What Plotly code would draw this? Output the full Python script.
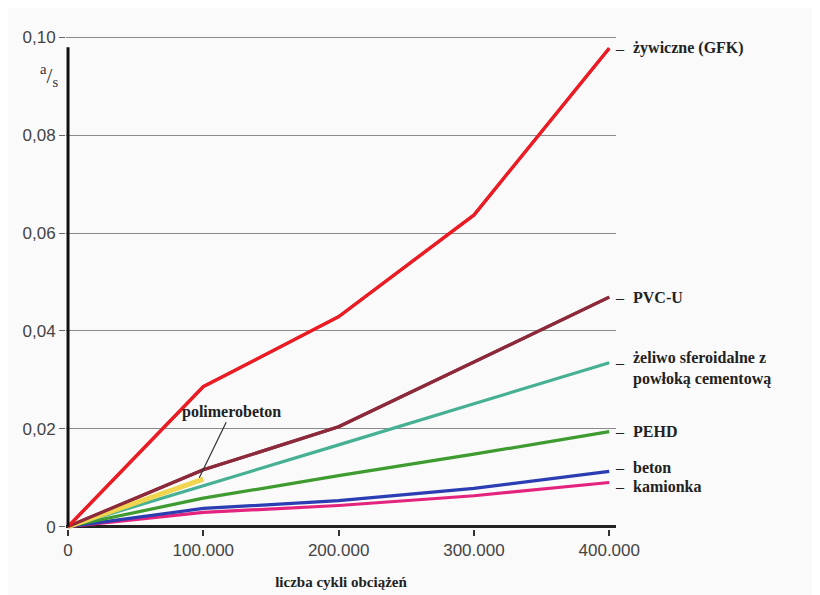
import plotly.graph_objects as go

# ---- data ----
cycles = [0, 100000, 200000, 300000, 400000]

zywiczne_gfk = [0, 0.0286, 0.0429, 0.0637, 0.0978]
pvc_u = [0, 0.0116, 0.0204, 0.0336, 0.0469]
zeliwo = [0, 0.0083, 0.0167, 0.0251, 0.0335]
pehd = [0, 0.0058, 0.0104, 0.0148, 0.0194]
beton = [0, 0.0037, 0.0053, 0.0078, 0.0113]
kamionka = [0, 0.0029, 0.0043, 0.0063, 0.0090]
polimerobeton_x = [0, 100000]
polimerobeton = [0, 0.0097]

y_tickvals = [0, 0.02, 0.04, 0.06, 0.08, 0.10]
y_ticktext = ["0", "0,02", "0,04", "0,06", "0,08", "0,10"]
x_tickvals = [0, 100000, 200000, 300000, 400000]
x_ticktext = ["0", "100.000", "200.000", "300.000", "400.000"]

series = [
    ("kamionka", kamionka, "#E4237E"),
    ("beton", beton, "#2B3DB2"),
    ("PEHD", pehd, "#3E9B2F"),
    ("żeliwo sferoidalne z<br>powłoką cementową", zeliwo, "#45B093"),
    ("PVC-U", pvc_u, "#8C2A3B"),
    ("żywiczne (GFK)", zywiczne_gfk, "#EC1C24"),
]
label_yshift = {"kamionka": -4, "beton": 4}

SERIF = "Liberation Serif"
SANS = "Liberation Sans"

fig = go.Figure()
for name, vals, col in series:
    fig.add_trace(go.Scatter(x=cycles, y=vals, mode="lines", name=name.replace("<br>", " "),
                             line=dict(color=col, width=3.2), showlegend=False, hoverinfo="skip"))
fig.add_trace(go.Scatter(x=polimerobeton_x, y=polimerobeton, mode="lines", name="polimerobeton",
                         line=dict(color="#F1D54E", width=5), showlegend=False, hoverinfo="skip"))
for name, vals, col in series[4:]:
    fig.add_trace(go.Scatter(x=cycles, y=vals, mode="lines", showlegend=False, hoverinfo="skip",
                             line=dict(color=col, width=3.2)))

annotations = []
for name, vals, col in series:
    end = vals[-1]
    ys = label_yshift.get(name, 0)
    annotations.append(dict(x=cycles[-1], y=end, xref="x", yref="y", text="–", showarrow=False,
                            xanchor="left", yanchor="middle", xshift=4, yshift=ys,
                            font=dict(family=SERIF, size=16, color="#222")))
    two = "<br>" in name
    annotations.append(dict(x=cycles[-1], y=end, xref="x", yref="y", text="<b>%s</b>" % name,
                            showarrow=False, xanchor="left", yanchor="middle", align="left",
                            xshift=22, yshift=(-6 if two else 0) + ys,
                            font=dict(family=SERIF, size=16, color="#222")))

annotations.append(dict(x=polimerobeton_x[-1] * 0.97, y=polimerobeton[-1] + 0.0003, xref="x", yref="y",
                        text="<b>polimerobeton</b>", showarrow=True, arrowhead=0, arrowwidth=1.2,
                        arrowcolor="#333", ax=32, ay=-66, standoff=0,
                        font=dict(family=SERIF, size=16, color="#222")))
annotations.append(dict(x=0, y=0.0922, xref="x", yref="y", xanchor="right", yanchor="middle", xshift=-8,
                        text="<sup>a</sup>/<sub>s</sub>", showarrow=False,
                        font=dict(family=SERIF, size=21, color="#333")))

fig.update_layout(
    width=820, height=595,
    margin=dict(l=58, r=212, t=27, b=74),
    paper_bgcolor="#FAFAFA", plot_bgcolor="#FAFAFA",
    showlegend=False,
    annotations=annotations,
    shapes=[dict(type="line", xref="x", yref="y", x0=0, x1=0, y0=0, y1=0.098,
                 line=dict(color="#111", width=3), layer="above")],
    xaxis=dict(range=[-1500, 405000], tickvals=x_tickvals, ticktext=x_ticktext,
               showgrid=False, zeroline=False, showline=False,
               ticks="outside", ticklen=6, tickwidth=2, tickcolor="#333",
               tickfont=dict(family=SANS, size=17, color="#444"),
               title=dict(text="<b>liczba cykli obciążeń</b>", standoff=17,
                          font=dict(family=SERIF, size=15, color="#222"))),
    yaxis=dict(range=[-0.0005, 0.1005], tickvals=y_tickvals, ticktext=y_ticktext,
               showgrid=True, gridcolor="#8A8A8A", gridwidth=1,
               zeroline=True, zerolinecolor="#222", zerolinewidth=2.5,
               ticks="outside", ticklen=6, tickcolor="#666",
               tickfont=dict(family=SANS, size=17, color="#444")),
)

fig.write_html("out.html")
